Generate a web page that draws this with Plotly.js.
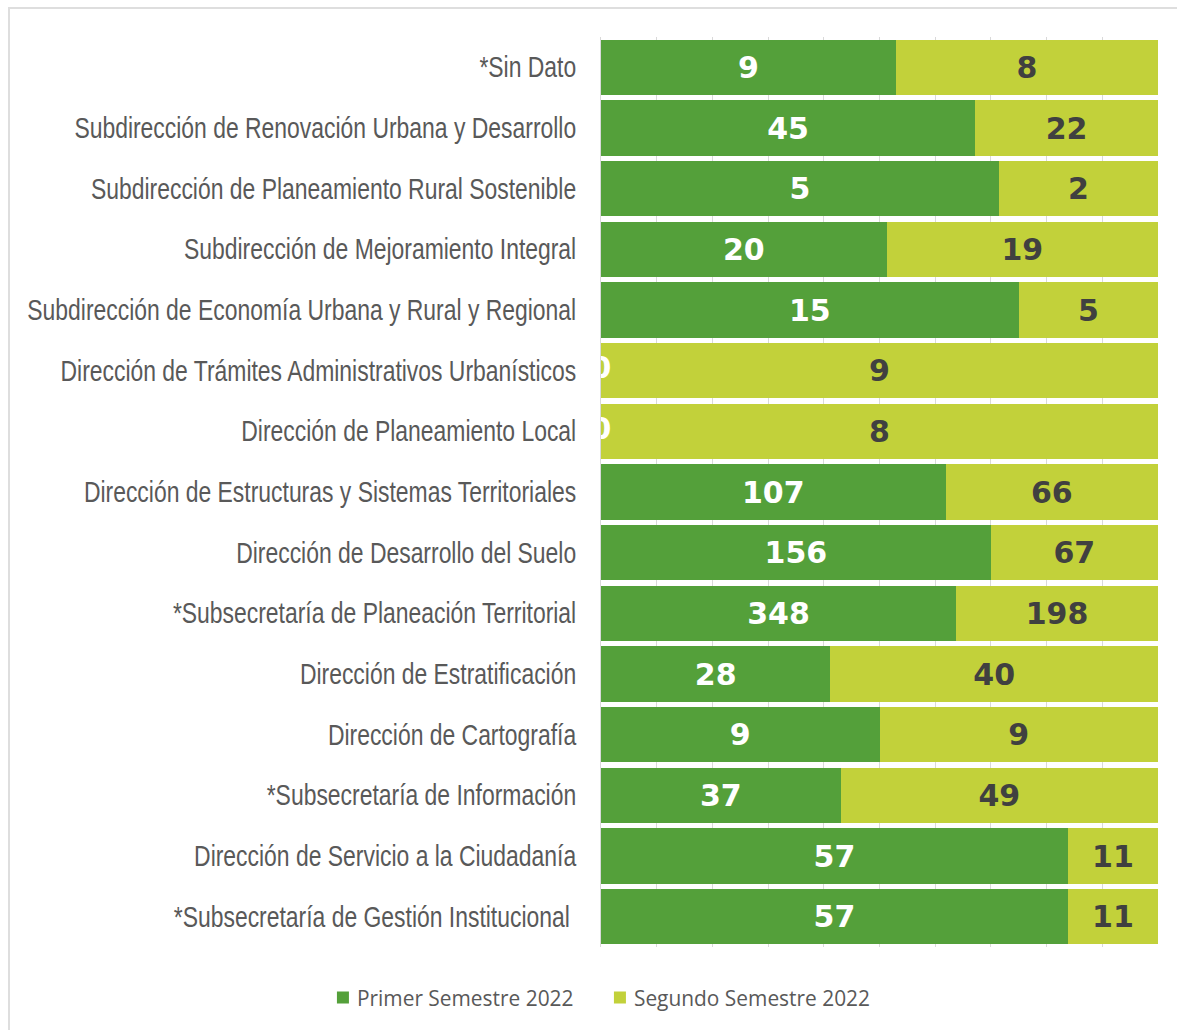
<!DOCTYPE html>
<html><head><meta charset="utf-8">
<script src="https://cdn.plot.ly/plotly-3.0.1.min.js"></script>
<style>
html,body{margin:0;padding:0;background:#fff;}
#frame{position:absolute;left:8px;top:7px;width:1170px;height:1023px;border-top:2px solid #dedede;border-left:2px solid #dedede;}
#chart{width:1170px;height:1022px;}
</style></head>
<body><div id="frame"><div id="chart"></div></div>
<script>
const categories = [
  "*Sin Dato",
  "Subdirección de Renovación Urbana y Desarrollo",
  "Subdirección de Planeamiento Rural Sostenible",
  "Subdirección de Mejoramiento Integral",
  "Subdirección de Economía Urbana y Rural y Regional",
  "Dirección de Trámites Administrativos Urbanísticos",
  "Dirección de Planeamiento Local",
  "Dirección de Estructuras y Sistemas Territoriales",
  "Dirección de Desarrollo del Suelo",
  "*Subsecretaría de Planeación Territorial",
  "Dirección de Estratificación",
  "Dirección de Cartografía",
  "*Subsecretaría de Información",
  "Dirección de Servicio a la Ciudadanía",
  "*Subsecretaría de Gestión Institucional\u00a0"
];
const primerSemestre = [9,45,5,20,15,0,0,107,156,348,28,9,37,57,57];
const segundoSemestre = [8,22,2,19,5,9,8,66,67,198,40,9,49,11,11];
const seriesNames = ["Primer Semestre 2022","Segundo Semestre 2022"];

const green = "#54A03A", lime = "#C2D13A";
const labelFont = {family:"DejaVu Sans, sans-serif", size:30, weight:"bold"};

const zeroCats = categories.filter((c,i)=>primerSemestre[i]===0);
const zeroVals = primerSemestre.filter(v=>v===0);

const traces = [
  {type:"bar", orientation:"h", name:seriesNames[0], y:categories, x:primerSemestre,
   marker:{color:green}, text:primerSemestre.map(String), textposition:"inside",
   insidetextanchor:"middle", constraintext:"none",
   textfont:Object.assign({color:"#ffffff"}, labelFont), hoverinfo:"skip"},
  {type:"bar", orientation:"h", name:seriesNames[1], y:categories, x:segundoSemestre,
   marker:{color:lime}, text:segundoSemestre.map(String), textposition:"inside",
   insidetextanchor:"middle", constraintext:"none",
   textfont:Object.assign({color:"#404040"}, labelFont), hoverinfo:"skip"},
  {type:"scatter", mode:"text", y:zeroCats, x:zeroVals, text:zeroVals.map(String),
   textposition:"middle center", showlegend:false, cliponaxis:true,
   textfont:Object.assign({color:"#ffffff"}, labelFont), hoverinfo:"skip"}
];

const layout = {
  width:1170, height:1022,
  margin:{l:591, r:22, t:28, b:84},
  barmode:"stack", barnorm:"percent", bargap:0.09,
  paper_bgcolor:"#ffffff", plot_bgcolor:"#ffffff",
  xaxis:{range:[0,100], dtick:10, showgrid:true, gridcolor:"#d9d9d9", gridwidth:1,
         showticklabels:false, zeroline:false, showline:false, fixedrange:true},
  yaxis:{type:"category", autorange:"reversed", showgrid:false, showline:true,
         linecolor:"#d9d9d9", linewidth:1, ticks:"", ticklabelstandoff:18,
         tickfont:{family:"Liberation Sans, Arial, sans-serif", size:29, color:"#595959"}},
  showlegend:true,
  legend:{orientation:"h", x:-0.51, xanchor:"left", y:-0.056, yanchor:"middle",
          font:{family:"Open Sans, sans-serif", size:20.9, color:"#595959"},
          entrywidth:232, itemwidth:30, traceorder:"normal"},
  font:{family:"Liberation Sans, Arial, sans-serif"}
};

function tidy(){
  const gd = document.getElementById("chart");
  gd.querySelectorAll(".yaxislayer-above .ytick text").forEach(t=>{
    t.removeAttribute("textLength");
    const w = t.getComputedTextLength();
    t.setAttribute("textLength", (w*0.79).toFixed(1));
    t.setAttribute("lengthAdjust","spacingAndGlyphs");
  });
  gd.querySelectorAll(".legend .legendsymbols").forEach(s=>{
    s.setAttribute("transform","translate(6,0)");
  });
}
Plotly.newPlot("chart", traces, layout, {displayModeBar:false, staticPlot:true}).then(tidy);
</script></body></html>
